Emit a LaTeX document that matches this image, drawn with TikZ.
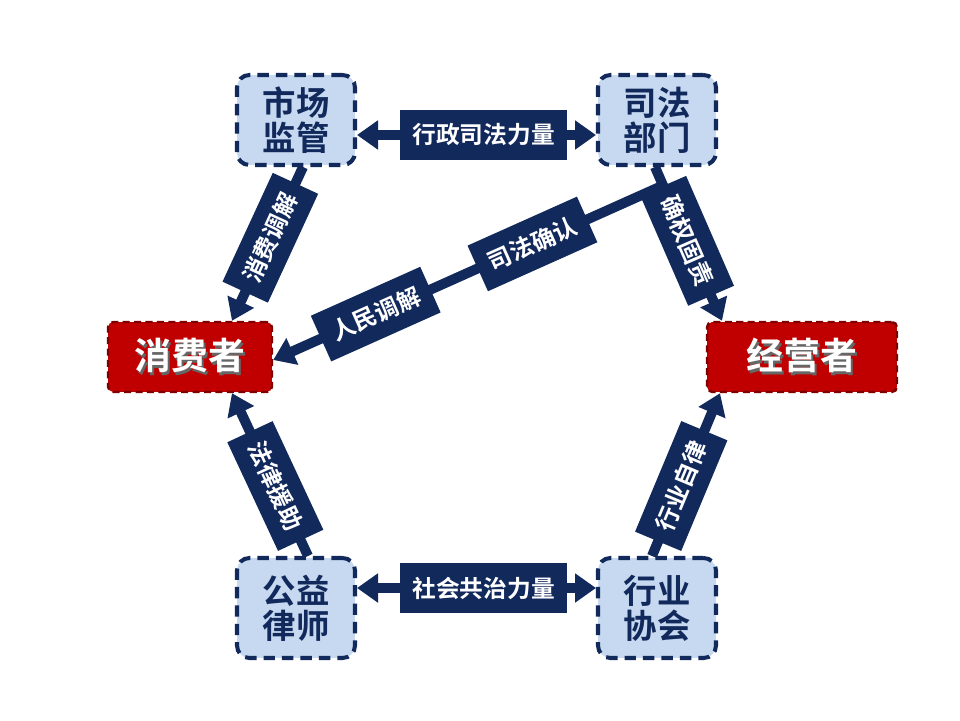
\documentclass[tikz,border=0pt]{standalone}
\usepackage{fontspec}
\setmainfont{Noto Sans CJK SC}[BoldFont={Noto Sans CJK SC Bold}]
\usetikzlibrary{arrows.meta}
\usetikzlibrary{calc}
\definecolor{navy}{RGB}{18,41,92}
\definecolor{paleblue}{RGB}{198,217,240}
\definecolor{deepred}{RGB}{192,0,0}
\definecolor{darkred}{RGB}{125,0,0}
\newcommand{\shadowed}[1]{\rlap{\textcolor{black!60}{\raisebox{-1.3pt}{\kern1.3pt#1}}}#1}

\begin{document}
\begin{tikzpicture}[x=0.02cm,y=-0.02cm,>={Triangle[width=0.56cm,length=0.42cm]},
    org/.style={draw=navy,line width=2.3pt,dash pattern=on 6.5pt off 4pt,fill=paleblue,rounded corners=7pt,
      minimum width=2.36cm,align=center,text=navy,font=\fontsize{19}{20}\selectfont\bfseries},
    party/.style={draw=darkred,line width=1.4pt,dash pattern=on 4pt off 2.5pt,fill=deepred,rounded corners=3pt,
      minimum height=1.4cm,text=white,font=\fontsize{21}{21}\selectfont\bfseries},
    link/.style={navy,line width=0.2cm},
    lab/.style={fill=navy,text=white,inner xsep=0.25cm,minimum height=1.0cm,sloped,
      font=\fontsize{13.5}{14}\selectfont\bfseries}]
    \useasboundingbox (0,0) rectangle (960,720);

    \foreach \n/\x/\y/\h/\t in {jg/296/120/1.8/市场\\监管, sf/657/120/1.8/司法\\部门,
                                gy/296/608/2.0/公益\\律师, hy/657/608/2.0/行业\\协会}
      \node[org,minimum height=\h cm] (\n) at (\x,\y) {\t};

    \node[party,minimum width=3.28cm] (xf) at (190,357) {\shadowed{消费者}};
    \node[party,minimum width=3.8cm] (jy) at (802,357) {\shadowed{经营者}};

    \draw[link,<->] ($(jg.east)+(0,15)$) -- ($(sf.west)+(0,15)$) node[lab,pos=.53] {行政司法力量};
    \draw[link,<->] ($(gy.east)+(0,-20)$) -- ($(hy.west)+(0,-20)$) node[lab,pos=.53] {社会共治力量};

    \coordinate (sfS) at ($(sf.south)+(-2,0)$);
    \coordinate (jyN) at ($(jy.north)+(-80,0)$);
    \coordinate (fork) at ($(sfS)!.12!(jyN)$);
    \draw[link,->] (fork) -- ($(xf.east)+(0,3)$) node[lab,pos=.335] {司法确认} node[lab,pos=.737] {人民调解};
    \draw[link,->] (sfS) -- (jyN) node[lab,pos=.48] {确权固责};

    \draw[link,->] ($(jg.south)+(7,0)$) -- ($(xf.north)+(42,0)$) node[lab,pos=.46] {消费调解};
    \draw[link,->] ($(gy.north)+(12,0)$) -- ($(xf.south)+(42,0)$) node[lab,pos=.43] {法律援助};
    \draw[link,->] ($(hy.north)+(-5,0)$) -- ($(jy.south)+(-82,0)$) node[lab,pos=.43] {行业自律};
\end{tikzpicture}
\end{document}
